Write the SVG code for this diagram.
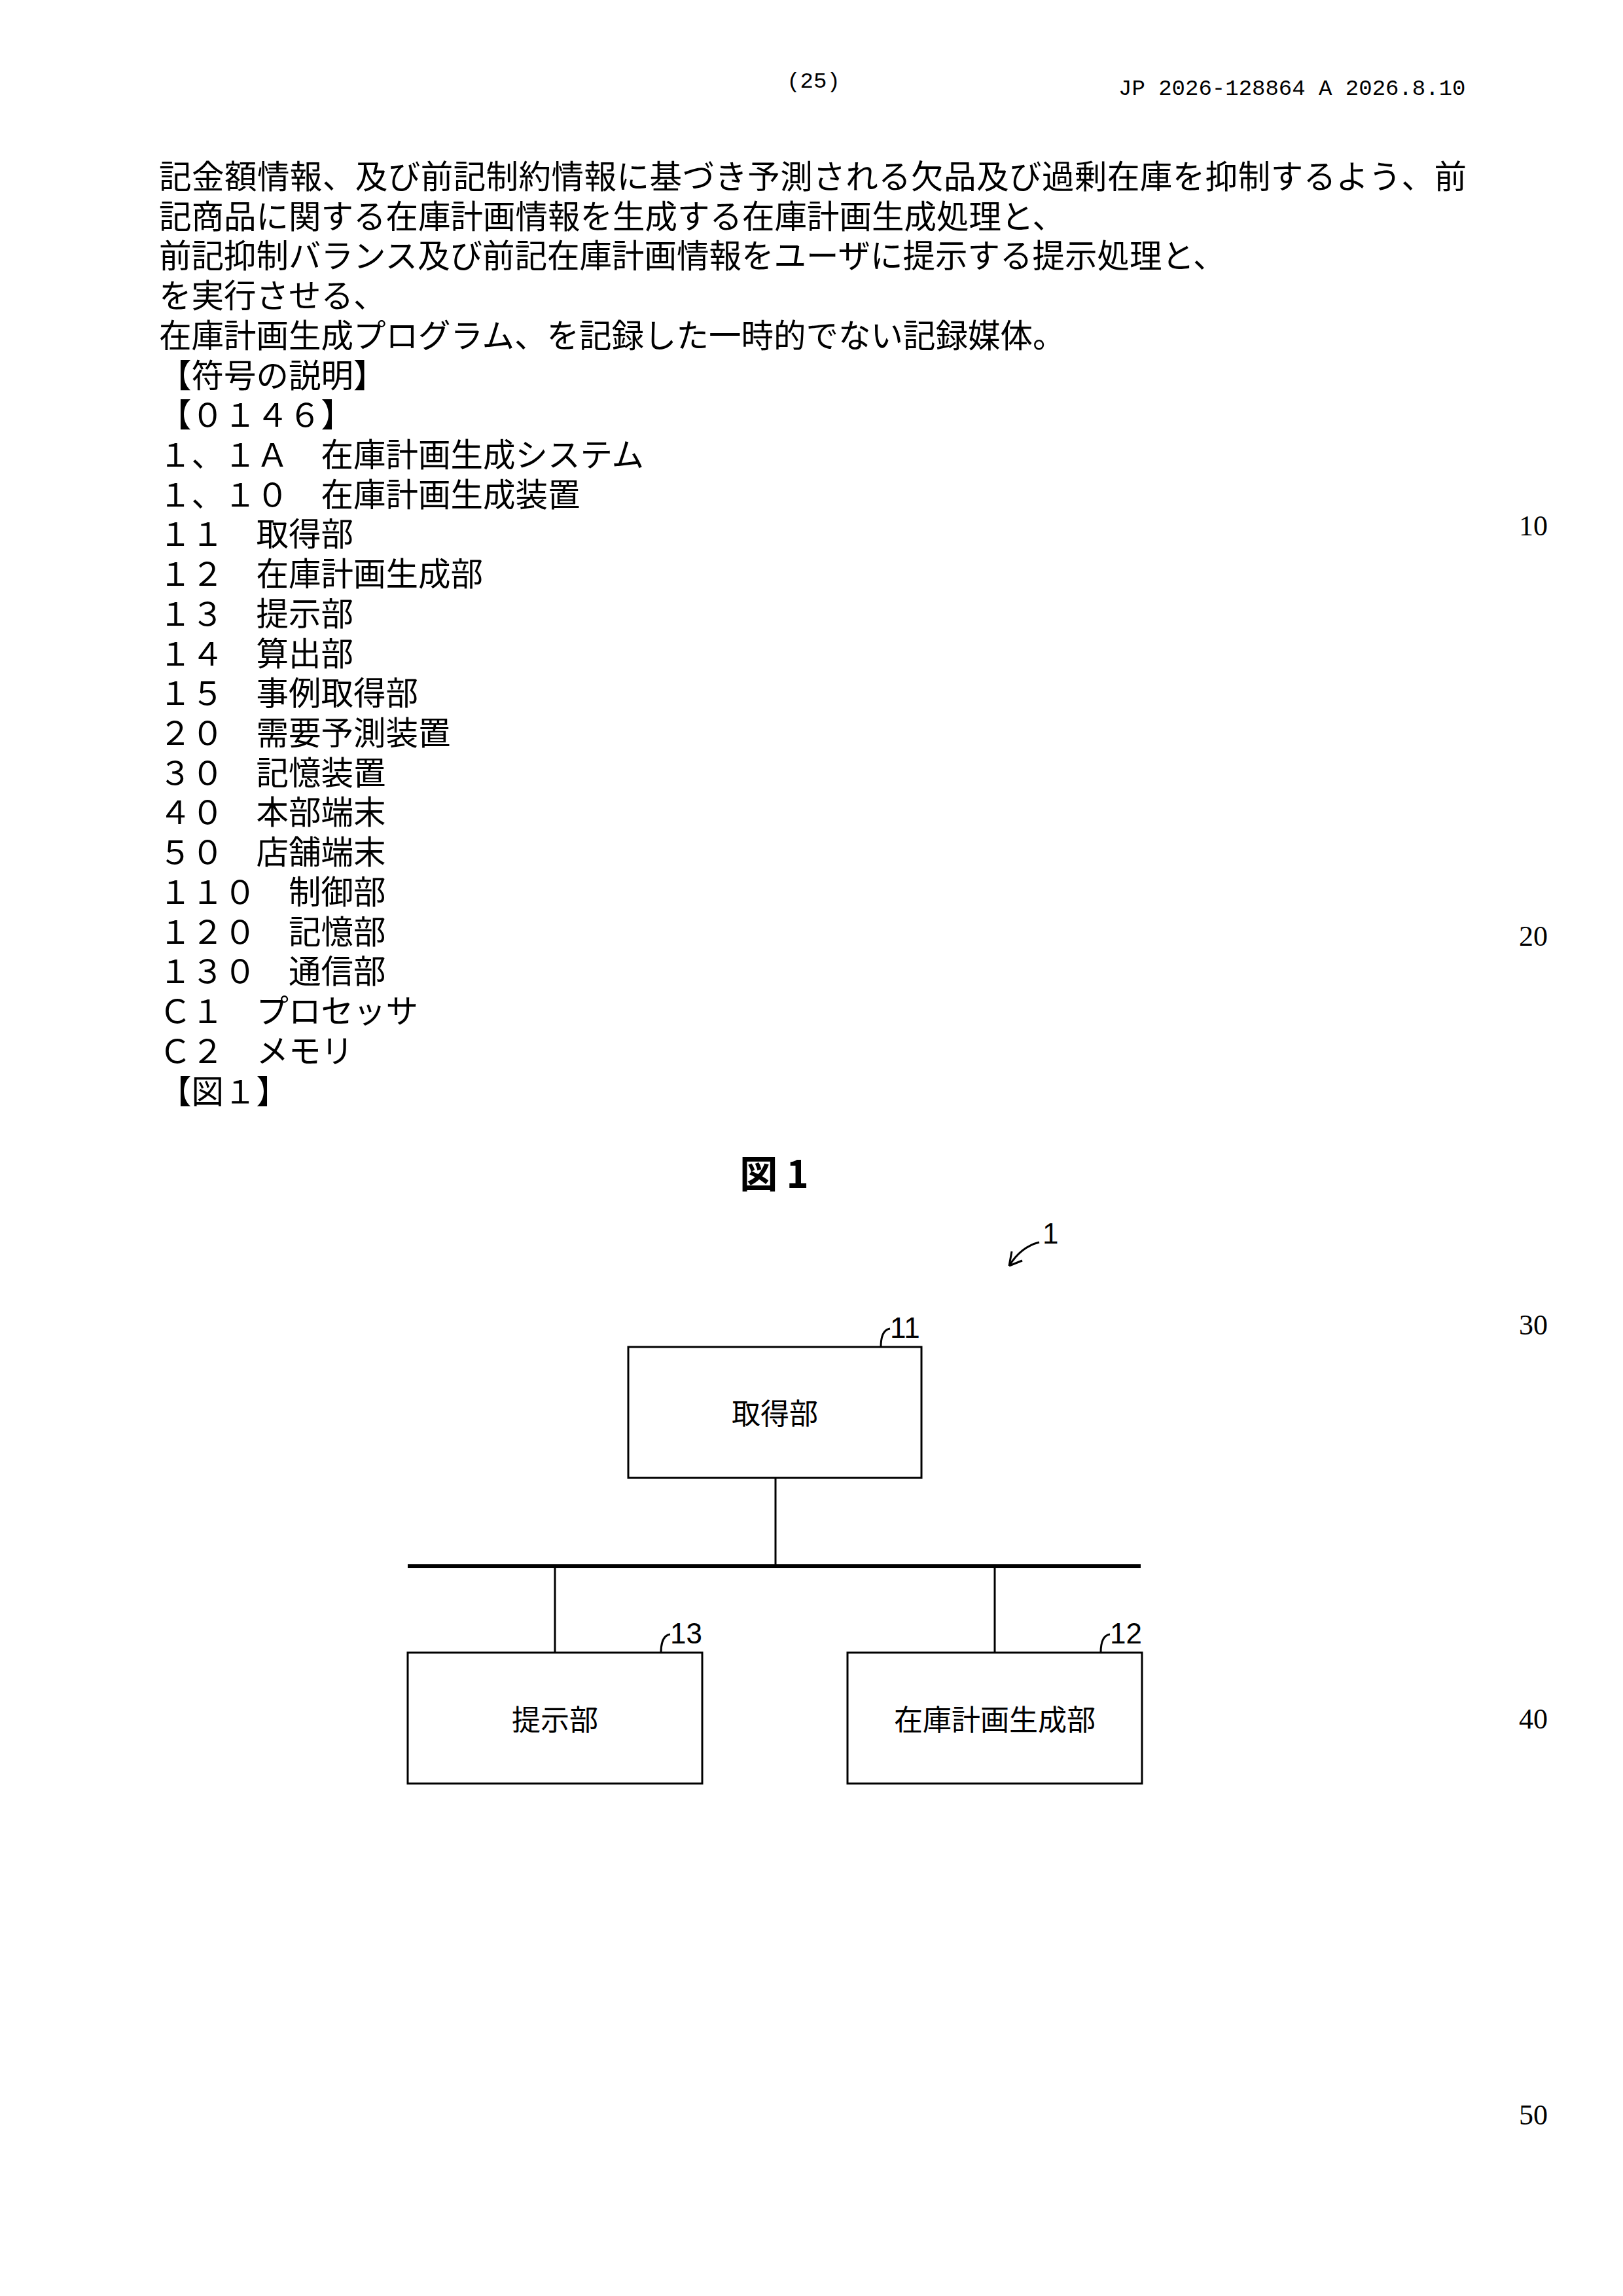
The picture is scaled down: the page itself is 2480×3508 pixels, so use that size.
<svg xmlns="http://www.w3.org/2000/svg" width="2480" height="3508" viewBox="0 0 2480 3508">
<style>
.t{font-family:"Noto Sans CJK JP","Liberation Serif",serif;font-size:49.5px;fill:#000}
.h{font-family:"Liberation Mono","DejaVu Sans Mono",monospace;font-size:34px;fill:#000}
.m{font-family:"Liberation Serif",serif;font-size:44px;fill:#000}
.b{font-family:"Noto Sans CJK JP",sans-serif;font-size:44px;fill:#000;text-anchor:middle}
.n{font-family:"Liberation Sans",sans-serif;font-size:44px;fill:#000}
.box{fill:#fff;stroke:#000;stroke-width:3}
.ln{stroke:#000;stroke-width:3;fill:none}
</style>
<rect width="2480" height="3508" fill="#fff"/>
<text class="h" x="1243" y="134" text-anchor="middle">(25)</text>
<text class="h" x="1709" y="145">JP  2026-128864  A  2026.8.10</text>
<g id="text">
<text class="t" x="243" y="288" textLength="1998">記金額情報、及び前記制約情報に基づき予測される欠品及び過剰在庫を抑制するよう、前</text>
<text class="t" x="243" y="349">記商品に関する在庫計画情報を生成する在庫計画生成処理と、</text>
<text class="t" x="243" y="409">前記抑制バランス及び前記在庫計画情報をユーザに提示する提示処理と、</text>
<text class="t" x="243" y="470">を実行させる、</text>
<text class="t" x="243" y="531">在庫計画生成プログラム、を記録した一時的でない記録媒体。</text>
<text class="t" x="243" y="592">【符号の説明】</text>
<text class="t" x="243" y="652">【０１４６】</text>
<text class="t" x="243" y="713">１、１Ａ　在庫計画生成システム</text>
<text class="t" x="243" y="774">１、１０　在庫計画生成装置</text>
<text class="t" x="243" y="834">１１　取得部</text>
<text class="t" x="243" y="895">１２　在庫計画生成部</text>
<text class="t" x="243" y="956">１３　提示部</text>
<text class="t" x="243" y="1017">１４　算出部</text>
<text class="t" x="243" y="1077">１５　事例取得部</text>
<text class="t" x="243" y="1138">２０　需要予測装置</text>
<text class="t" x="243" y="1199">３０　記憶装置</text>
<text class="t" x="243" y="1259">４０　本部端末</text>
<text class="t" x="243" y="1320">５０　店舗端末</text>
<text class="t" x="243" y="1381">１１０　制御部</text>
<text class="t" x="243" y="1442">１２０　記憶部</text>
<text class="t" x="243" y="1502">１３０　通信部</text>
<text class="t" x="243" y="1563">Ｃ１　プロセッサ</text>
<text class="t" x="243" y="1624">Ｃ２　メモリ</text>
<text class="t" x="243" y="1686">【図１】</text>
</g>
<g id="margin">
<text class="m" x="2343" y="818" text-anchor="middle">10</text>
<text class="m" x="2343" y="1445" text-anchor="middle">20</text>
<text class="m" x="2343" y="2039" text-anchor="middle">30</text>
<text class="m" x="2343" y="2641" text-anchor="middle">40</text>
<text class="m" x="2343" y="3246" text-anchor="middle">50</text>
</g>
<text x="1183" y="1815" font-family="Noto Sans CJK JP,sans-serif" font-size="58" font-weight="bold" text-anchor="middle">図 1</text>
<g id="ref1">
<text class="n" x="1593" y="1900">1</text>
<path class="ln" d="M1588,1898 Q1560,1905 1542,1934"/>
<path class="ln" d="M1542,1934 L1546,1912 M1542,1934 L1562,1926"/>
</g>
<g id="connectors">
<line class="ln" x1="1185" y1="2258" x2="1185" y2="2393"/>
<line x1="623" y1="2393" x2="1743" y2="2393" stroke="#000" stroke-width="6"/>
<line class="ln" x1="848" y1="2393" x2="848" y2="2525"/>
<line class="ln" x1="1520" y1="2393" x2="1520" y2="2525"/>
</g>
<g id="n11">
<rect class="box" x="960" y="2058" width="448" height="200"/>
<text class="b" x="1184" y="2176">取得部</text>
<path class="ln" d="M1346,2058 Q1346,2032 1360,2030"/>
<text class="n" x="1360" y="2044">11</text>
</g>
<g id="n13">
<rect class="box" x="623" y="2525" width="450" height="200"/>
<text class="b" x="848" y="2644">提示部</text>
<path class="ln" d="M1010,2525 Q1010,2499 1024,2497"/>
<text class="n" x="1024" y="2511">13</text>
</g>
<g id="n12">
<rect class="box" x="1295" y="2525" width="450" height="200"/>
<text class="b" x="1520" y="2644">在庫計画生成部</text>
<path class="ln" d="M1682,2525 Q1682,2499 1696,2497"/>
<text class="n" x="1696" y="2511">12</text>
</g>
</svg>
